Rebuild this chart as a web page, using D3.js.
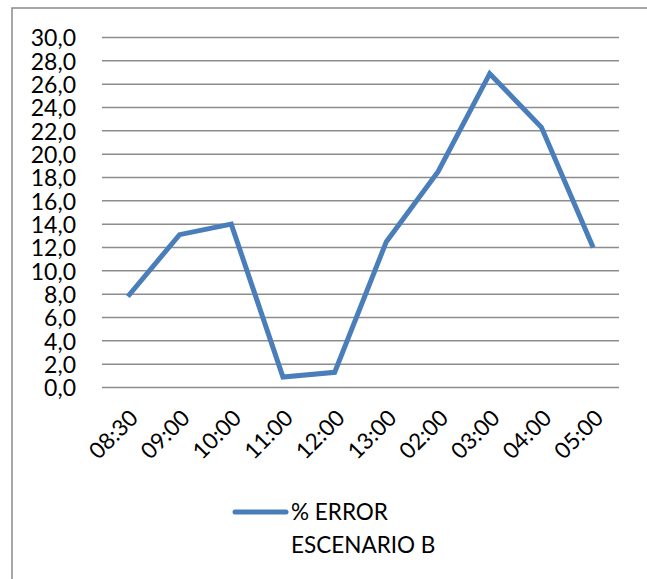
<!DOCTYPE html>
<html><head><meta charset="utf-8">
<script src="https://cdn.jsdelivr.net/npm/d3@7"></script>
<style>html,body{margin:0;padding:0;background:#fff;}svg{display:block;}</style>
</head><body>
<script>
const categories = ["08:30","09:00","10:00","11:00","12:00","13:00","02:00","03:00","04:00","05:00"];
const values = [7.8, 13.1, 14.0, 0.9, 1.3, 12.5, 18.5, 26.9, 22.3, 12.0];
const yTicks = [0,2,4,6,8,10,12,14,16,18,20,22,24,26,28,30];
const seriesName = ["% ERROR", "ESCENARIO B"];

const W = 647, H = 579;
const svg = d3.select("body").append("svg").attr("width", W).attr("height", H);
const font = "Lato, 'Open Sans', sans-serif";

// outer frame (right/bottom fall outside the view)
svg.append("rect").attr("x", 12).attr("y", 8).attr("width", 660).attr("height", 600)
  .attr("fill", "none").attr("stroke", "#898989").attr("stroke-width", 1.5);

const x = d3.scaleBand().domain(categories).range([102, 619]);
const y = d3.scaleLinear().domain([0, 30]).range([387.5, 37.5]);

const grid = svg.append("g");
yTicks.forEach(t => {
  grid.append("line").attr("x1", 102).attr("x2", 619)
    .attr("y1", y(t)).attr("y2", y(t))
    .attr("stroke", "#8c8c8c").attr("stroke-width", 1.5);
});

const yAxis = d3.axisLeft(y).tickValues(yTicks).tickSize(0).tickPadding(0)
  .tickFormat(d => d3.format(".1f")(d).replace(".", ","));
const ya = svg.append("g").attr("transform", "translate(76,0)").call(yAxis);
ya.select(".domain").remove();
ya.selectAll("text").attr("font-family", font).attr("font-size", 23).attr("fill", "#000").attr("dy", "0.36em");

const xAxis = d3.axisBottom(x).tickSize(0).tickPadding(0);
const xa = svg.append("g").call(xAxis);
xa.select(".domain").remove();
xa.selectAll(".tick").attr("transform", d => `translate(${x(d) + x.bandwidth()/2 + 6},414)`);
xa.selectAll("text").attr("font-family", font).attr("font-size", 22.5).attr("fill", "#000")
  .attr("y", 0).attr("dy", "0.35em").attr("text-anchor", "end").attr("transform", "rotate(-45)");

const line = d3.line().x((d, i) => x(categories[i]) + x.bandwidth()/2).y(d => y(d));
svg.append("path").datum(values).attr("d", line).attr("fill", "none")
  .attr("stroke", "#4a7ebb").attr("stroke-width", 5).attr("stroke-linejoin", "miter");

// legend
svg.append("line").attr("x1", 235).attr("x2", 286).attr("y1", 512).attr("y2", 512)
  .attr("stroke", "#4a7ebb").attr("stroke-width", 5).attr("stroke-linecap", "round");
svg.append("text").attr("x", 291).attr("y", 520).attr("font-family", font).attr("font-size", 22.5).text(seriesName[0]);
svg.append("text").attr("x", 291).attr("y", 553).attr("font-family", font).attr("font-size", 22.5).text(seriesName[1]);
</script>
</body></html>
